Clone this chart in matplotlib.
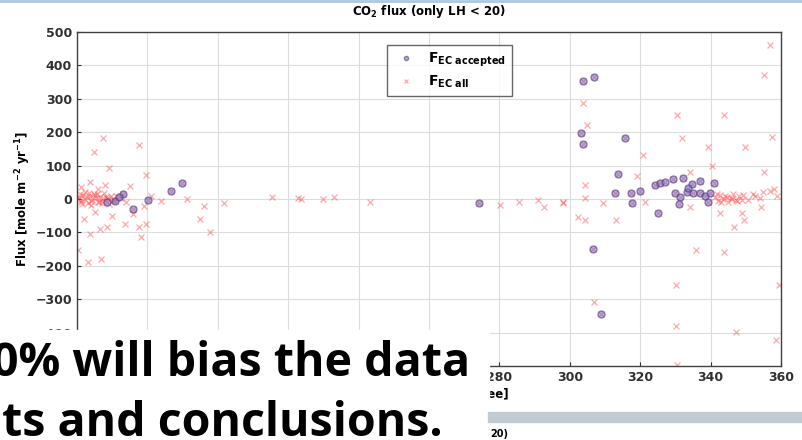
import matplotlib.pyplot as plt
from matplotlib.patches import Rectangle
from matplotlib.lines import Line2D

# données (direction du vent, flux)
acc_x = [170.7, 173.2, 175.8, 180.2, 186.6, 189.9, 168.5, 172.0, 274.2,
         303.7, 307.0, 303.2, 303.7, 315.6, 313.7, 312.8, 317.5, 319.9, 317.7,
         306.6, 309.0, 324.2, 325.6, 327.0, 329.2, 332.3, 334.7, 337.0, 341.0,
         329.9, 331.3, 333.2, 333.7, 335.1, 337.0, 338.5, 339.9, 330.9, 325.1, 339.4]
acc_y = [-6, 15, -29, -3, 24, 47, -8, 5, -13,
         352, 364, 199, 165, 182, 75, 17, 17, 25, -13,
         -151, -343, 42, 49, 52, 59, 62, 45, 55, 47,
         17, 7, 22, 32, 17, 17, 9, 17, -15, -43, -8]

# points seulement dans F_EC all
oth_x = [167.5, 164.7, 177.5, 169.0, 179.7, 163.7, 168.0, 166.0, 161.0, 175.0,
         191.3, 196.0, 201.7, 194.9, 197.7, 173.7, 177.7, 178.1, 179.7, 168.5,
         163.7, 166.6, 160.4, 163.2, 166.9, 165.0, 170.0, 162.0, 176.0, 179.0,
         181.0, 184.0,
         160.5, 161.2, 161.8, 162.4, 163.0, 163.6, 164.2, 164.8, 165.4, 166.0,
         166.6, 167.2, 167.8, 168.4, 169.0, 169.6, 170.2, 160.8, 161.5, 162.7,
         163.9, 165.1, 166.3, 167.5, 168.7, 169.9, 171.0, 161.0, 162.2, 164.0,
         165.8, 167.0, 168.2, 170.5, 172.5, 174.0, 160.3, 163.3,
         215.3, 222.8, 223.7, 229.9, 233.0, 243.2, 280.1, 285.6, 290.9, 292.8,
         298.0,
         303.7, 305.0, 330.4, 343.7, 331.8, 339.4, 349.9, 357.5, 357.0, 355.1,
         320.9, 304.2, 319.0, 340.4, 304.2, 298.0, 309.4, 302.3, 304.2, 313.2,
         321.3, 334.2, 342.8, 346.6, 349.4, 348.9, 354.2, 352.0, 355.0, 357.0,
         358.0, 359.0, 355.1, 334.2, 335.9, 343.7, 330.1, 359.5, 307.0, 330.1,
         347.3, 358.5, 330.4,
         341.2, 342.0, 342.8, 343.5, 344.2, 345.0, 345.8, 346.5, 347.2, 348.0,
         348.8, 341.8, 343.0, 344.6, 346.0, 347.6, 349.2, 350.5, 352.5, 354.0]
oth_y = [182, 140, 162, 92, 72, 52, 42, 30, 35, 40,
         0, -21, -11, -61, -99, -75, -85, -115, -75, -85,
         -105, -91, -153, -188, -181, -40, -50, -60, -45, -20,
         10, -5,
         5, -8, 12, 0, -12, 8, -4, 15, 2, -10,
         6, -6, 18, 3, -14, 10, -2, 16, -16, 7,
         -5, 12, -9, 4, 0, -7, 9, -3, 20, -18,
         14, -11, 6, -4, 2, -9, 1, 19,
         7, 2, -1, -1, 5, -8, -18, -8, -3, -23,
         -8,
         287, 222, 252, 252, 182, 157, 157, 187, 462, 372,
         132, 42, 69, 100, 2, -11, -11, -53, -63, -63,
         -8, -23, -43, -83, -63, -43, -23, 15, 20, 25,
         30, 10, 80, 82, -153, -158, -258, -258, -308, -380,
         -398, -423, -498,
         5, -6, 12, 0, 8, -9, 3, 14, -4, 10,
         -2, 16, -8, 6, 1, -5, 11, -3, 8, 2]

x_ticks = [280, 300, 320, 340, 360]
y_ticks = [-400, -300, -200, -100, 0, 100, 200, 300, 400, 500]

plt.rcParams['font.family'] = ['DejaVu Sans']
plt.rcParams['font.weight'] = 'bold'
plt.rcParams['mathtext.fontset'] = 'dejavusans'

fig = plt.figure(figsize=(8.02, 4.4), dpi=100)
ax = fig.add_axes([77 / 802, 74 / 440, 704 / 802, 334 / 440])

# tous les points (x rouges) puis les acceptés (cercles)
all_x = acc_x + oth_x
all_y = acc_y + oth_y
h_all, = ax.plot(all_x, all_y, 'x', color='#ff4040', alpha=0.45, ms=4, mew=0.9)
h_acc, = ax.plot(acc_x, acc_y, 'o', mfc='#8a78c0', mec='#4a3a88', alpha=0.6,
                 ms=5, mew=1.0)

ax.set_xlim(160, 360)
ax.set_ylim(-500, 500)
ax.set_xticks(list(range(180, 361, 20)))
ax.set_xticklabels([str(v) if v in x_ticks else '' for v in range(180, 361, 20)])
ax.set_yticks(y_ticks)
ax.grid(True, color='#dcdcdc', lw=0.8)
ax.tick_params(direction='in', length=3, labelsize=9, colors='#303030')
for s in ax.spines.values():
    s.set_color('#404040')
    s.set_linewidth(1.0)

ax.set_title(r'CO$_2$ flux (only LH < 20)', fontsize=8.5, fontweight='bold', pad=12)
ax.set_ylabel(r'Flux [mole m$^{-2}$ yr$^{-1}$]', fontsize=8.5, fontweight='bold', labelpad=2)
ax.set_xlabel('Wind direction [degree]', fontsize=8.5, fontweight='bold', labelpad=3)

leg = ax.legend([h_acc, h_all],
                [r'$\mathbf{F}_{\mathbf{EC\ accepted}}$', r'$\mathbf{F}_{\mathbf{EC\ all}}$'],
                loc='upper left', bbox_to_anchor=(0.44, 0.961), borderaxespad=0,
                fancybox=False, edgecolor='#404040', fontsize=10, markerscale=0.6,
                handletextpad=0.6, labelspacing=0.35)
leg.get_frame().set_linewidth(1.0)

# éléments de la diapositive par-dessus le graphique
fig.add_artist(Line2D([0, 1], [0.998, 0.998], color='#aec6de', lw=2,
                      transform=fig.transFigure))
fig.add_artist(Rectangle((0, 0), 489 / 802, 110 / 440, transform=fig.transFigure,
                         color='white', zorder=10))
fig.add_artist(Rectangle((488 / 802, 18 / 440), 314 / 802, 10 / 440,
                         transform=fig.transFigure, color='#c2cad2', zorder=10))
fig.text(490 / 802, 3 / 440, '20)', fontsize=7, fontweight='bold', zorder=11)

fig.text(470 / 802, 64 / 440, '0% will bias the data', ha='right', va='baseline',
         fontsize=33.5, fontweight='bold', family='Open Sans', zorder=11)
fig.text(443 / 802, 4 / 440, 'ts and conclusions.', ha='right', va='baseline',
         fontsize=33.5, fontweight='bold', family='Open Sans', zorder=11)

fig.savefig('out.png', dpi=100)
